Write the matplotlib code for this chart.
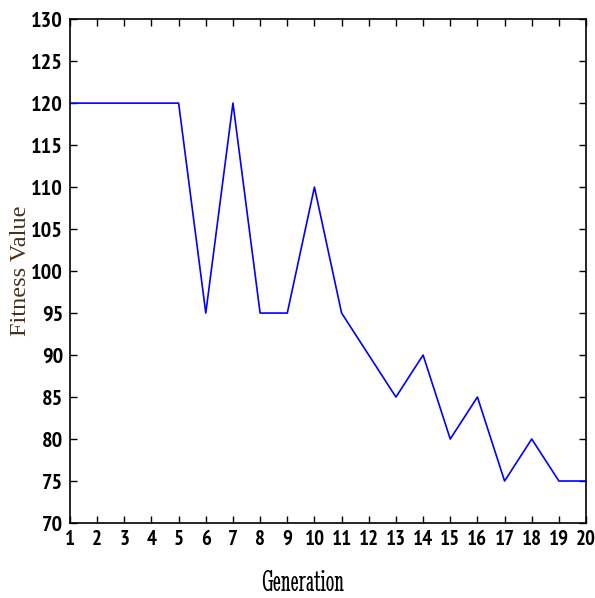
import matplotlib
matplotlib.use("Agg")
import matplotlib.pyplot as plt

generation = [1, 2, 3, 4, 5, 6, 7, 8, 9, 10, 11, 12, 13, 14, 15, 16, 17, 18, 19, 20]
fitness = [120, 120, 120, 120, 120, 95, 120, 95, 95, 110, 95, 90, 85, 90, 80, 85, 75, 80, 75, 75]
yticks = [70, 75, 80, 85, 90, 95, 100, 105, 110, 115, 120, 125, 130]

tickfont = ["PT Sans Narrow", "DejaVu Sans"]

fig = plt.figure(figsize=(5.95, 5.98), dpi=100)
ax = fig.add_axes([0.1176, 0.1254, 0.8674, 0.8426])
ax.plot(generation, fitness, color="#0000ff", lw=1.2)
ax.set_xlim(1, 20)
ax.set_ylim(70, 130)
ax.set_xticks(generation)
ax.set_yticks(yticks)
ax.tick_params(direction="in", top=True, right=True, length=5, width=1, pad=5)
for lab in ax.get_xticklabels() + ax.get_yticklabels():
    lab.set_fontfamily(tickfont)
    lab.set_fontweight("bold")
    lab.set_fontsize(16)
for lab in ax.get_xticklabels():
    lab.set_fontsize(15)
for s in ax.spines.values():
    s.set_linewidth(1.2)
ax.set_xlabel("Generation", fontfamily=["Stint Ultra Condensed", "Liberation Serif"],
              fontsize=22)
ax.xaxis.set_label_coords(0.45, -0.093)
fig.text(0.034, 0.547, "Fitness Value",
         rotation=90, ha="center", va="center",
         fontfamily=["Liberation Serif", "DejaVu Serif"], fontsize=17.5, color="#4a3018")
fig.savefig("out.png", dpi=100)
